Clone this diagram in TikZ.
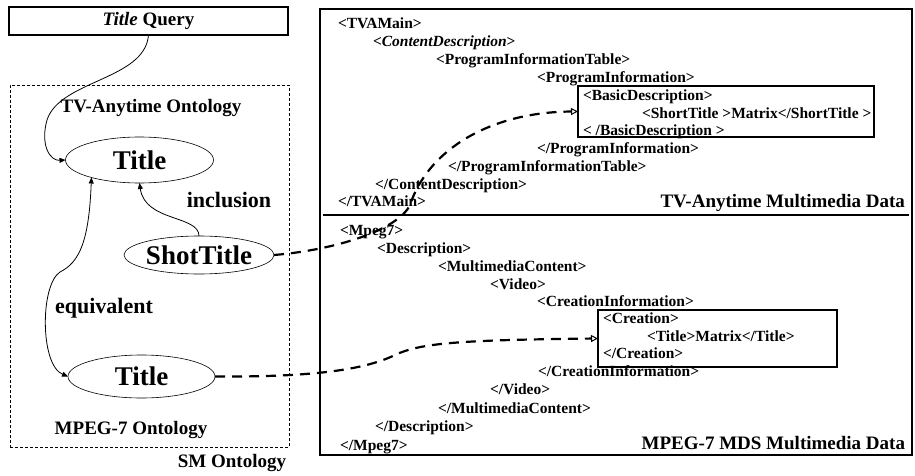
\documentclass[tikz,border=0pt]{standalone}
\usepackage{fontspec}
\setmainfont{Liberation Serif}
\usetikzlibrary{arrows.meta,shapes.geometric}
\begin{document}
\begin{tikzpicture}[x=1pt,y=-1pt,
  every node/.style={inner sep=0pt, outer sep=0pt},
  lbl/.style={font=\fontsize{19}{22}\selectfont\bfseries},
  rellbl/.style={font=\fontsize{22}{24}\selectfont\bfseries},
  concept/.style={draw, ellipse, line width=0.6pt, fill=white,
    font=\fontsize{27}{30}\selectfont\bfseries},
  xml/.style={anchor=west, font=\fontsize{15.5}{17}\selectfont\bfseries,
    text height=10.5pt, text depth=3pt},
  datalbl/.style={anchor=east, font=\fontsize{19}{22}\selectfont\bfseries,
    text height=13pt, text depth=4pt},
  hit/.style={draw, line width=1.6pt, anchor=north west},
  rel/.style={line width=0.8pt, -{Triangle[length=6pt,width=5pt]}},
  eqv/.style={line width=0.8pt, {Triangle[length=6pt,width=5pt]}-{Triangle[length=6pt,width=5pt]}},
  map/.style={line width=2.2pt, dash pattern=on 10pt off 7pt,
    -{Triangle[open,length=7pt,width=7pt,line width=1pt]}},
]
\useasboundingbox (0,0) rectangle (915,476);

% query box
\node[draw, line width=1.3pt, minimum width=279pt, minimum height=28pt, lbl]
  (query) at (148.5,21) {\textit{Title} Query};

% SM ontology container
\node[draw, line width=0.8pt, dash pattern=on 3pt off 2pt,
  minimum width=279pt, minimum height=362pt] (sm) at (149.5,266) {};
\node[lbl] (tvaont) at (151,108) {TV-Anytime Ontology};
\node[lbl] (mpgont) at (131,430) {MPEG-7 Ontology};
\node[lbl] (smont) at (232,463) {SM Ontology};

% concepts
\node[concept, minimum width=148pt, minimum height=46pt] (t1) at (139.5,160) {Title};
\node[concept, minimum width=150pt, minimum height=38pt] (st) at (199,255) {ShotTitle};
\node[concept, minimum width=147pt, minimum height=43pt] (t2) at (141.5,376.5) {Title};

\node[rellbl] (incl) at (229,200) {inclusion};
\node[rellbl] (equiv) at (104,308) {equivalent};

% relations
\draw[rel] (query.south) .. controls (145,80) and (60,80) .. (47,120)
  .. controls (40,145) and (50,161) .. (t1.west);
\draw[rel] (st.north) .. controls (199,215) and (145,222) .. (t1.south);
\draw[eqv] (t1.200) .. controls (89,240) and (80,262) .. (60,272)
  .. controls (40,285) and (40,365) .. (t2.west);

% multimedia data panel
\node[draw, line width=1.6pt, minimum width=592pt, minimum height=446pt,
  anchor=north west] (data) at (320,9) {};
\draw[line width=1.5pt] ([xshift=3pt]data.west |- 0,215) coordinate (sepl)
  -- ([xshift=-3pt]data.east |- 0,215) coordinate (sepr);

% TV-Anytime instance
\node[xml] (tvamain) at (338,25) {<TVAMain>};
\node[xml] (cd) at (373,43) {<\textit{ContentDescription}>};
\node[xml] (pit) at (436,61) {<ProgramInformationTable>};
\node[xml] (pi) at (537,79) {<ProgramInformation>};
\node[hit, minimum width=296pt, minimum height=51pt] (bdbox) at (578,86) {};
\node[xml] (bd) at (583,97) {<BasicDescription>};
\node[xml] (stl) at (642,115) {<ShortTitle >Matrix</ShortTitle >};
\node[xml] (bde) at (583,132) {< /BasicDescription >};
\node[xml] (pie) at (537,150) {</ProgramInformation>};
\node[xml] (pite) at (448,168) {</ProgramInformationTable>};
\node[xml] (cde) at (375,186) {</ContentDescription>};
\node[xml] (tvae) at (338,203) {</TVAMain>};
\node[datalbl] (tvalbl) at (905,203) {TV-Anytime Multimedia Data};

% MPEG-7 instance
\node[xml] (mp) at (340,232) {<Mpeg7>};
\node[xml] (desc) at (377,250) {<Description>};
\node[xml] (mc) at (438,268) {<MultimediaContent>};
\node[xml] (vid) at (490,286) {<Video>};
\node[xml] (ci) at (537,303) {<CreationInformation>};
\node[hit, minimum width=239pt, minimum height=57pt] (crbox) at (598,310) {};
\node[xml] (cr) at (603,320) {<Creation>};
\node[xml] (ttl) at (647,338) {<Title>Matrix</Title>};
\node[xml] (cre) at (603,355) {</Creation>};
\node[xml] (cie) at (538,373) {</CreationInformation>};
\node[xml] (vide) at (490,391) {</Video>};
\node[xml] (mce) at (438,410) {</MultimediaContent>};
\node[xml] (desce) at (375,428) {</Description>};
\node[xml] (mpe) at (340,447) {</Mpeg7>};
\node[datalbl] (mdslbl) at (905,445) {MPEG-7 MDS Multimedia Data};

% concept-to-instance mappings
\draw[map] (st.east) .. controls (335,250) and (398,230) .. (410,205)
  .. controls (428,150) and (490,112) .. (bdbox.west);
\draw[map] (t2.east) .. controls (300,377) and (360,372) .. (395,355)
  .. controls (420,343) and (460,340) .. (crbox.west);
\end{tikzpicture}
\end{document}
